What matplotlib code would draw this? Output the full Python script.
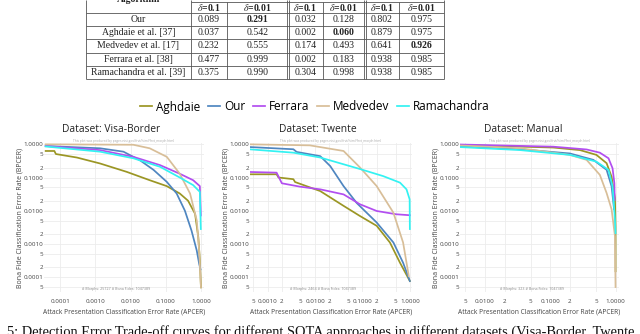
import matplotlib
matplotlib.use("Agg")
import matplotlib.pyplot as plt
from matplotlib.ticker import FixedLocator, FixedFormatter

W, H = 640, 334

# ---- table data ----
table_algos = ["Our", "Aghdaie et al. [37]", "Medvedev et al. [17]",
               "Ferrara et al. [38]", "Ramachandra et al. [39]"]
table_deltas = ["0.1", "0.01", "0.1", "0.01", "0.1", "0.01"]
table_values = [
    ["0.089", "0.291", "0.032", "0.128", "0.802", "0.975"],
    ["0.037", "0.542", "0.002", "0.060", "0.879", "0.975"],
    ["0.232", "0.555", "0.174", "0.493", "0.641", "0.926"],
    ["0.477", "0.999", "0.002", "0.183", "0.938", "0.985"],
    ["0.375", "0.990", "0.304", "0.998", "0.938", "0.985"],
]
table_bold = [(0, 1), (1, 3), (2, 5)]

# ---- DET curves (APCER, BPCER) ----
methods = ["Aghdaie", "Our", "Ferrara", "Medvedev", "Ramachandra"]
colors = ["#9b9624", "#4f86c0", "#b24ef0", "#d8be98", "#33f2f2"]

visa_aghdaie_x = [3.9e-5, 6.9e-5, 7.6e-5, 3.0e-4, 1.36e-3, 7.8e-3, 0.035, 0.107, 0.25, 0.43, 0.68, 0.84, 0.93, 1.0]
visa_aghdaie_y = [0.63, 0.63, 0.51, 0.40, 0.265, 0.148, 0.083, 0.055, 0.033, 0.020, 0.0081, 0.0016, 3.2e-4, 4.9e-5]
visa_our_x = [3.9e-5, 1.36e-3, 6.3e-3, 0.0186, 0.045, 0.107, 0.204, 0.35, 0.54, 0.76, 0.89, 0.97]
visa_our_y = [0.89, 0.76, 0.60, 0.33, 0.17, 0.074, 0.033, 0.010, 0.0025, 6.3e-4, 2.5e-4, 1.7e-4]
visa_ferrara_x = [3.9e-5, 1.36e-3, 0.012, 0.069, 0.25, 0.60, 0.93, 0.99]
visa_ferrara_y = [0.89, 0.67, 0.42, 0.236, 0.13, 0.083, 0.055, 0.0072]
visa_medvedev_x = [3.9e-5, 0.012, 0.035, 0.107, 0.25, 0.49, 0.76, 0.89, 1.0]
visa_medvedev_y = [1.0, 0.97, 0.76, 0.42, 0.13, 0.033, 0.0051, 6.3e-4, 4.9e-5]
visa_rama_x = [3.9e-5, 1.36e-3, 0.012, 0.069, 0.25, 0.60, 0.93, 0.99]
visa_rama_y = [0.86, 0.60, 0.38, 0.21, 0.10, 0.059, 0.037, 0.0028]

twente_aghdaie_x = [4.06e-4, 1.55e-3, 1.7e-3, 3.5e-3, 3.8e-3, 0.0129, 0.040, 0.089, 0.20, 0.38, 0.62, 1.0]
twente_aghdaie_y = [0.125, 0.125, 0.10, 0.089, 0.073, 0.039, 0.014, 0.0069, 0.0035, 0.0011, 2.7e-4, 7.6e-5]
twente_our_x = [4.06e-4, 3.5e-3, 4.1e-3, 0.0129, 0.021, 0.040, 0.076, 0.20, 0.45, 0.72, 1.0]
twente_our_y = [0.83, 0.71, 0.59, 0.44, 0.22, 0.055, 0.017, 0.0044, 0.0011, 2.7e-4, 7.6e-5]
twente_ferrara_x = [4.06e-4, 1.55e-3, 2.0e-3, 4.8e-3, 0.0129, 0.040, 0.089, 0.20, 0.52, 1.0]
twente_ferrara_y = [0.147, 0.14, 0.067, 0.053, 0.044, 0.031, 0.0156, 0.0098, 0.0078, 0.0073]
twente_medvedev_x = [4.06e-4, 7.8e-3, 0.040, 0.089, 0.20, 0.45, 0.72, 0.95]
twente_medvedev_y = [1.0, 0.93, 0.63, 0.20, 0.055, 0.0087, 0.0011, 1.07e-4]
twente_rama_x = [4.06e-4, 3.5e-3, 0.0129, 0.089, 0.275, 0.62, 0.85, 0.99, 1.0]
twente_rama_y = [0.71, 0.56, 0.40, 0.18, 0.11, 0.07, 0.044, 0.022, 0.0028]

manual_aghdaie_x = [3.1e-3, 0.111, 0.285, 0.51, 0.73, 0.87, 0.98, 1.0, 1.0]
manual_aghdaie_y = [0.97, 0.80, 0.67, 0.48, 0.27, 0.105, 0.024, 0.0033, 1.5e-4]
manual_our_x = [3.1e-3, 0.0345, 0.20, 0.457, 0.73, 0.87, 0.95]
manual_our_y = [0.89, 0.71, 0.53, 0.34, 0.17, 0.054, 0.011]
manual_ferrara_x = [3.1e-3, 0.111, 0.36, 0.575, 0.78, 0.90, 0.96, 0.97]
manual_ferrara_y = [1.0, 0.85, 0.70, 0.56, 0.38, 0.19, 0.067, 0.021]
manual_medvedev_x = [3.1e-3, 0.0345, 0.20, 0.36, 0.575, 0.73, 0.87, 0.98, 1.0]
manual_medvedev_y = [0.95, 0.76, 0.48, 0.34, 0.12, 0.034, 0.011, 0.0017, 5e-5]
manual_rama_x = [3.1e-3, 0.0345, 0.20, 0.51, 0.78, 0.90, 0.98, 1.0]
manual_rama_y = [0.85, 0.67, 0.48, 0.30, 0.17, 0.054, 0.0054, 0.0021]

datasets = ["Visa-Border", "Twente", "Manual"]
n_morphs = ["25727", "2464", "323"]
n_bona = "1047389"
curves = [
    [(visa_aghdaie_x, visa_aghdaie_y), (visa_our_x, visa_our_y), (visa_ferrara_x, visa_ferrara_y),
     (visa_medvedev_x, visa_medvedev_y), (visa_rama_x, visa_rama_y)],
    [(twente_aghdaie_x, twente_aghdaie_y), (twente_our_x, twente_our_y), (twente_ferrara_x, twente_ferrara_y),
     (twente_medvedev_x, twente_medvedev_y), (twente_rama_x, twente_rama_y)],
    [(manual_aghdaie_x, manual_aghdaie_y), (manual_our_x, manual_our_y), (manual_ferrara_x, manual_ferrara_y),
     (manual_medvedev_x, manual_medvedev_y), (manual_rama_x, manual_rama_y)],
]

caption = ("5: Detection Error Trade-off curves for different SOTA approaches "
           "in different datasets (Visa-Border, Twente")

# axes placement in pixels: left, top, right, bottom
boxes = [(44, 143, 204, 292), (250, 143, 412, 292), (460, 143, 619, 292)]
xlims = [(3.5e-5, 1.22), (4.26e-4, 1.11), (4.14e-3, 1.13)]
ylim = (3.55e-5, 1.096)
x_minor = [False, True, True]
title_x = [111, 318, 523]

plotly_font = "Open Sans"
tick_color = "#444444"


def rect(l, t, r, b):
    return [l / W, 1 - b / H, (r - l) / W, (b - t) / H]


def log_ticks(lo, hi, with_minor):
    ticks, labels = [], []
    for e in range(-6, 1):
        for m in ([1, 2, 5] if with_minor else [1]):
            v = m * 10.0 ** e
            if lo <= v <= hi:
                ticks.append(v)
                labels.append(f"{v:.4f}" if m == 1 else str(m))
    return ticks, labels


fig = plt.figure(figsize=(W / 100, H / 100), dpi=100)
fig.patch.set_facecolor("white")

# ---- table (pixel overlay) ----
tab = fig.add_axes([0, 0, 1, 1])
tab.set_xlim(0, W)
tab.set_ylim(H, 0)
tab.axis("off")

col_edges = [86, 190.7, 226.7, 288, 322.7, 364.7, 399.3, 444]
row_edges = [13.3, 26, 39.3, 52.7, 65.7, 79.3]
lc, lw = "#555555", 0.6
tab.hlines(1.7, col_edges[1], col_edges[-1], color=lc, lw=lw)
tab.hlines(row_edges, col_edges[0], col_edges[-1], color=lc, lw=lw)
for i, x in enumerate(col_edges):
    top = 0 if i in (0, 1, 3, 5, 7) else 1.7
    if i in (3, 5):
        tab.vlines([x - 0.8, x + 0.8], top, row_edges[-1], color=lc, lw=lw)
    else:
        tab.vlines(x, top, row_edges[-1], color=lc, lw=lw)

serif = "Liberation Serif"
plt.rcParams["mathtext.fontset"] = "stix"
fs_tab = 7.0
tab.text((col_edges[0] + col_edges[1]) / 2, 1.8, "Algorithm", family=serif, size=fs_tab,
         weight="bold", ha="center", va="baseline", color="#222222")
for j, d in enumerate(table_deltas):
    cx = (col_edges[j + 1] + col_edges[j + 2]) / 2
    tab.text(cx, 7.6, r"$\delta$=" + d, family=serif, size=fs_tab, weight="bold",
             ha="center", va="center", color="#222222")
for i, name in enumerate(table_algos):
    cy = (row_edges[i] + row_edges[i + 1]) / 2
    tab.text((col_edges[0] + col_edges[1]) / 2, cy, name, family=serif, size=fs_tab,
             ha="center", va="center", color="#222222")
    for j, v in enumerate(table_values[i]):
        cx = (col_edges[j + 1] + col_edges[j + 2]) / 2
        tab.text(cx, cy, v, family=serif, size=fs_tab, ha="center", va="center",
                 weight="bold" if (i, j) in table_bold else "normal", color="#222222")

tab.text(7, 335.5, caption, family=serif, size=10.4, ha="left", va="baseline", color="#111111")

# ---- DET plots ----
for k, name in enumerate(datasets):
    ax = fig.add_axes(rect(*boxes[k]))
    for (xs, ys), m, c in zip(curves[k], methods, colors):
        ax.plot(xs, ys, color=c, lw=1.25, label=m, solid_joinstyle="round")
    ax.set_xscale("log")
    ax.set_yscale("log")
    ax.set_xlim(*xlims[k])
    ax.set_ylim(*ylim)

    xt, xl = log_ticks(*xlims[k], x_minor[k])
    yt, yl = log_ticks(*ylim, True)
    ax.xaxis.set_major_locator(FixedLocator(xt))
    ax.xaxis.set_major_formatter(FixedFormatter(xl))
    ax.xaxis.set_minor_locator(FixedLocator([]))
    ax.yaxis.set_major_locator(FixedLocator(yt))
    ax.yaxis.set_major_formatter(FixedFormatter(yl))
    ax.yaxis.set_minor_locator(FixedLocator([]))
    ax.tick_params(length=0, labelsize=4.5, labelcolor=tick_color)
    ax.tick_params(axis="x", pad=5)
    ax.tick_params(axis="y", pad=0.8)
    for lab in ax.get_xticklabels() + ax.get_yticklabels():
        lab.set_family(plotly_font)
    ax.grid(True, color="#ececec", lw=0.6)
    ax.set_axisbelow(True)
    for s in ax.spines.values():
        s.set_visible(False)

    w = boxes[k][2] - boxes[k][0]
    h = boxes[k][3] - boxes[k][1]
    ax.set_xlabel("Attack Presentation Classification Error Rate (APCER)", family=plotly_font,
                  size=4.8, color=tick_color, va="center")
    ax.xaxis.set_label_coords(0.5, -20 / h)
    ax.set_ylabel("Bona Fide Classification Error Rate (BPCER)", family=plotly_font,
                  size=5.0, color=tick_color, va="center")
    ax.yaxis.set_label_coords(-24 / w, 0.5)

    ax.text(0.5, 1.003, "This plot was produced by pages.nist.gov/frvt/html/frvt_morph.html",
            transform=ax.transAxes, ha="center", va="bottom", size=2.3, color="#aaaaaa",
            family=plotly_font)
    ax.text(0.45, 0.004, f"# Morphs: {n_morphs[k]} # Bona Fides: {n_bona}",
            transform=ax.transAxes, ha="center", va="bottom", size=2.6, color="#888888",
            family=plotly_font)
    fig.text(title_x[k] / W, 1 - 129 / H, f"Dataset: {name}", family=plotly_font, size=7.4,
             ha="center", va="center", color="#222222")
    if k == 0:
        handles, labels = ax.get_legend_handles_labels()

fig.legend(handles, labels, loc="center", bbox_to_anchor=(315 / W, 1 - 107 / H), ncol=5,
           frameon=False, prop={"family": plotly_font, "size": 8.5}, handlelength=1.0,
           handletextpad=0.35, columnspacing=0.65, borderaxespad=0)

fig.savefig("out.png", dpi=100, facecolor="white")
